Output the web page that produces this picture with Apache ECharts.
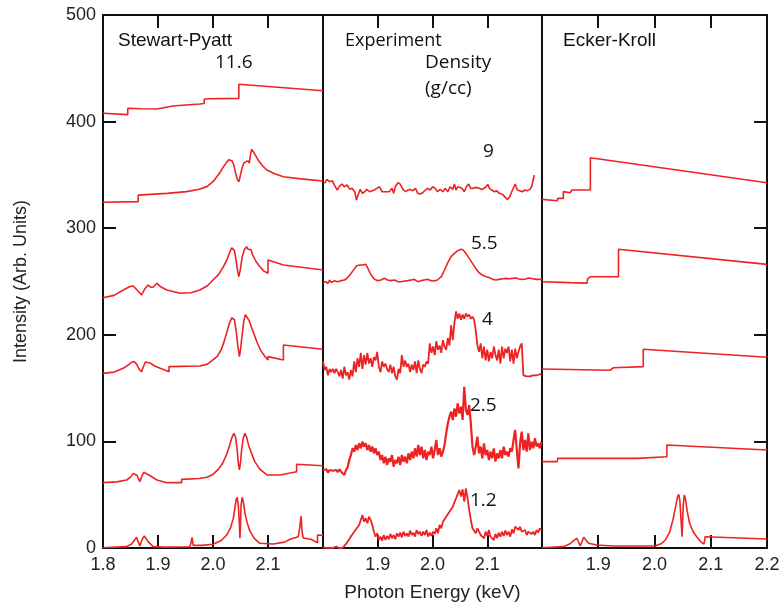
<!DOCTYPE html>
<html>
<head>
<meta charset="utf-8">
<script src="https://cdn.jsdelivr.net/npm/echarts@6.0.0/dist/echarts.min.js"></script>
<style>
  html, body { margin: 0; padding: 0; background: #fff; }
  #chart { width: 781px; height: 604px; }
</style>
</head>
<body>
<div id="chart"></div>
<script>
// ---- Stewart-Pyatt model, [keV, intensity] ----
const sp11_6 = [[1.800,407.8],[1.845,406.5],[1.845,412.5],[1.870,412.0],[1.898,411.8],[1.927,414.6],[1.950,415.5],[1.976,416.5],[1.984,417.0],[1.984,421.0],[1.991,421.5],[1.991,422.4],[2.047,421.8],[2.047,435.0],[2.200,429.0]];
const sp9 = [[1.800,324.3],[1.864,324.9],[1.864,331.0],[1.916,332.7],[1.952,334.3],[1.975,336.5],[1.989,339.0],[2.000,343.6],[2.007,348.3],[2.013,352.5],[2.019,357.7],[2.025,362.0],[2.029,364.3],[2.032,364.6],[2.035,363.0],[2.038,359.0],[2.041,352.0],[2.044,346.0],[2.047,343.6],[2.050,350.0],[2.053,357.0],[2.056,361.0],[2.060,362.5],[2.064,363.0],[2.066,361.0],[2.068,368.0],[2.070,374.0],[2.073,372.0],[2.077,368.5],[2.082,364.0],[2.090,358.5],[2.098,354.6],[2.112,351.0],[2.128,348.3],[2.160,346.3],[2.200,344.3]];
const sp5_5 = [[1.800,234.8],[1.820,237.0],[1.837,242.0],[1.848,245.0],[1.855,245.8],[1.862,242.0],[1.870,237.3],[1.876,243.0],[1.882,246.7],[1.887,244.6],[1.891,244.6],[1.898,248.3],[1.905,245.0],[1.916,242.0],[1.940,239.0],[1.960,239.5],[1.976,242.0],[1.990,246.0],[2.000,251.4],[2.010,256.5],[2.019,263.9],[2.025,270.0],[2.030,277.0],[2.034,281.5],[2.036,282.6],[2.039,279.0],[2.042,270.0],[2.045,259.0],[2.047,254.5],[2.050,262.0],[2.053,273.0],[2.057,280.0],[2.061,282.6],[2.064,280.0],[2.067,279.0],[2.069,280.0],[2.072,275.0],[2.078,269.0],[2.085,264.0],[2.092,260.0],[2.100,257.7],[2.100,270.2],[2.128,265.5],[2.200,260.8]];
const sp4 = [[1.800,163.8],[1.820,165.0],[1.837,168.6],[1.847,172.0],[1.853,174.5],[1.857,174.8],[1.861,172.5],[1.866,167.5],[1.870,165.4],[1.873,169.5],[1.877,174.5],[1.880,175.7],[1.886,173.5],[1.895,170.5],[1.904,168.6],[1.920,165.4],[1.920,170.1],[1.976,170.7],[1.990,172.5],[2.000,176.4],[2.008,180.0],[2.015,186.0],[2.021,195.0],[2.026,204.0],[2.030,211.0],[2.034,216.0],[2.037,217.0],[2.039,214.0],[2.042,204.0],[2.045,190.0],[2.048,179.5],[2.050,186.0],[2.053,200.0],[2.056,213.0],[2.059,219.0],[2.062,218.0],[2.066,213.0],[2.070,207.0],[2.075,200.0],[2.080,193.0],[2.087,185.0],[2.094,180.0],[2.100,176.4],[2.100,179.5],[2.128,176.4],[2.128,190.4],[2.200,186.4]];
const sp2_5 = [[1.800,61.3],[1.825,62.0],[1.843,63.8],[1.850,66.5],[1.855,70.0],[1.858,70.7],[1.862,68.0],[1.867,62.2],[1.870,66.5],[1.874,71.0],[1.877,71.6],[1.885,68.0],[1.898,63.8],[1.916,61.3],[1.943,61.3],[1.943,64.4],[1.975,65.2],[1.989,66.3],[2.000,69.0],[2.010,74.0],[2.018,80.0],[2.025,88.0],[2.030,96.0],[2.034,103.0],[2.038,107.6],[2.041,104.0],[2.044,92.0],[2.046,80.0],[2.048,73.2],[2.050,80.0],[2.052,92.0],[2.055,103.0],[2.058,107.6],[2.061,104.0],[2.065,96.0],[2.070,89.0],[2.076,81.0],[2.085,74.0],[2.098,68.5],[2.122,68.5],[2.122,70.0],[2.152,71.6],[2.152,78.5],[2.200,77.2]];
const sp1_2 = [[1.800,0.3],[1.843,1.3],[1.852,3.7],[1.858,8.0],[1.861,10.0],[1.864,6.0],[1.867,1.9],[1.871,8.0],[1.875,11.3],[1.882,6.0],[1.891,1.3],[1.910,0.8],[1.958,1.2],[1.960,5.0],[1.962,10.0],[1.964,2.5],[1.980,2.5],[1.980,3.5],[2.000,3.5],[2.015,7.0],[2.025,12.2],[2.032,19.0],[2.037,28.0],[2.040,38.0],[2.042,45.0],[2.044,47.6],[2.046,40.0],[2.048,22.0],[2.049,9.1],[2.050,22.0],[2.051,40.0],[2.053,47.6],[2.055,44.0],[2.058,33.0],[2.062,24.0],[2.067,16.0],[2.075,9.0],[2.085,4.4],[2.110,3.7],[2.130,5.5],[2.140,8.2],[2.155,10.6],[2.158,20.0],[2.160,30.0],[2.162,15.0],[2.164,9.4],[2.178,8.2],[2.190,5.0],[2.190,12.2],[2.200,12.0]];

// ---- Experiment ----
const exp9 = [[1.803,342.0],[1.807,345.8],[1.812,343.6],[1.817,344.6],[1.821,340.5],[1.826,335.8],[1.830,339.5],[1.835,341.4],[1.839,338.9],[1.844,340.5],[1.849,336.4],[1.853,337.4],[1.858,334.2],[1.861,326.4],[1.864,331.1],[1.868,336.4],[1.872,332.7],[1.876,334.2],[1.880,336.4],[1.885,334.2],[1.890,335.2],[1.894,335.8],[1.898,337.4],[1.903,338.9],[1.908,334.2],[1.912,334.2],[1.917,334.2],[1.921,334.2],[1.926,337.4],[1.929,332.7],[1.932,338.9],[1.937,342.7],[1.941,341.4],[1.946,336.4],[1.951,334.2],[1.955,335.8],[1.959,336.4],[1.964,335.2],[1.969,337.4],[1.973,332.7],[1.977,332.0],[1.982,333.3],[1.987,335.8],[1.991,337.4],[1.996,335.8],[2.000,338.9],[2.005,337.4],[2.009,334.2],[2.014,336.4],[2.019,334.2],[2.023,337.4],[2.028,334.2],[2.032,338.9],[2.037,336.4],[2.040,341.4],[2.043,335.8],[2.046,338.9],[2.049,340.5],[2.054,337.4],[2.058,334.2],[2.062,338.9],[2.066,341.4],[2.070,337.4],[2.074,337.4],[2.079,338.3],[2.085,337.4],[2.091,336.4],[2.098,338.9],[2.101,341.1],[2.104,337.4],[2.108,335.8],[2.113,334.2],[2.117,335.2],[2.122,332.7],[2.128,331.7],[2.133,328.9],[2.137,327.0],[2.141,329.5],[2.146,335.8],[2.151,341.4],[2.155,335.8],[2.159,335.2],[2.164,334.2],[2.169,335.8],[2.173,335.2],[2.178,336.4],[2.181,338.9],[2.186,349.9]];
const exp5_5 = [[1.800,248.9],[1.805,249.8],[1.809,248.3],[1.812,251.4],[1.815,248.9],[1.818,247.6],[1.821,250.8],[1.827,249.8],[1.833,250.8],[1.839,251.4],[1.844,253.0],[1.849,256.1],[1.855,260.2],[1.861,264.5],[1.867,265.5],[1.873,265.5],[1.878,266.1],[1.882,262.3],[1.888,256.1],[1.894,252.0],[1.900,250.8],[1.906,251.4],[1.912,253.0],[1.918,251.4],[1.924,250.8],[1.931,251.4],[1.937,249.8],[1.943,249.8],[1.949,250.5],[1.955,250.8],[1.961,251.4],[1.967,252.0],[1.973,249.8],[1.979,250.8],[1.985,251.4],[1.991,252.0],[1.997,250.8],[2.003,250.5],[2.009,251.4],[2.016,254.5],[2.022,260.8],[2.028,267.7],[2.034,273.3],[2.040,276.4],[2.046,278.9],[2.052,280.2],[2.056,279.5],[2.061,276.4],[2.067,271.7],[2.073,267.0],[2.079,262.3],[2.085,258.3],[2.091,256.1],[2.098,254.5],[2.104,253.6],[2.110,252.0],[2.116,251.4],[2.122,252.0],[2.128,252.6],[2.134,252.9],[2.140,252.6],[2.146,252.9],[2.152,253.3],[2.158,252.3],[2.164,252.0],[2.170,252.3],[2.176,253.3],[2.183,252.6],[2.189,252.0],[2.195,252.0],[2.200,252.0]];

// shared energy samples for the three densest experimental traces
const expEnergy = [1.800,1.803,1.806,1.809,1.812,1.815,1.818,1.821,1.824,1.827,1.830,1.833,1.836,1.839,1.842,1.845,1.848,1.851,1.854,1.857,1.860,1.863,1.866,1.869,1.872,1.875,1.878,1.881,1.884,1.887,1.890,1.893,1.896,1.899,1.902,1.905,1.908,1.911,1.914,1.917,1.920,1.923,1.926,1.929,1.932,1.935,1.938,1.941,1.944,1.947,1.950,1.953,1.956,1.959,1.962,1.965,1.968,1.971,1.974,1.977,1.980,1.983,1.986,1.989,1.992,1.995,1.998,2.001,2.004,2.007,2.010,2.013,2.016,2.019,2.022,2.025,2.028,2.031,2.034,2.037,2.040,2.043,2.046,2.049,2.052,2.055,2.058,2.061,2.064,2.067,2.070,2.073,2.076,2.079,2.082,2.085,2.088,2.091,2.094,2.097,2.100,2.103,2.106,2.109,2.112,2.115,2.118,2.121,2.124,2.127,2.130,2.133,2.136,2.139,2.142,2.145,2.148,2.151,2.154,2.157,2.160,2.163,2.166,2.169,2.172,2.175,2.178,2.181,2.184,2.187,2.190,2.193,2.196,2.199];
const exp4 = [175,167,170,162,168,165,168,164,168,165,161,167,159,170,162,165,158,167,161,175,165,178,170,183,168,181,172,183,173,178,170,179,176,184,170,165,175,170,173,168,165,172,164,170,161,158,168,164,181,170,176,170,173,165,172,167,175,164,176,168,164,172,170,175,173,192,183,189,181,194,186,190,183,195,189,186,197,190,209,195,211,222,215,220,214,219,215,220,217,219,215,217,214,204,190,184,192,178,189,176,186,175,184,178,189,181,176,186,173,189,178,187,183,189,175,186,173,187,178,184,189,192,162,161,161,161,161,162,162,162,162,162,163,163];
const exp2_5 = [73.2,71.6,73.8,70.7,73.2,71.6,72.5,70.7,73.2,71.3,73.8,71.6,72.5,68.5,73.2,75.7,82.6,87.2,93.5,90.4,96.6,91.9,98.2,93.5,99.7,95.1,98.2,91.9,96.6,90.4,95.1,88.8,93.5,87.2,90.4,82.6,87.2,79.4,85.7,77.9,84.1,81.0,87.2,76.3,82.6,79.4,85.7,77.9,87.2,81.0,85.7,79.4,88.8,82.6,90.4,84.1,93.5,85.7,96.6,87.2,95.1,84.1,91.9,82.6,90.4,87.2,95.1,84.1,91.9,101.3,87.2,93.5,85.7,90.4,96.6,107.6,116.9,123.2,127.9,120.1,131.0,123.2,135.7,126.3,132.6,120.1,151.3,129.5,124.8,134.1,116.9,95.1,87.2,95.1,104.4,88.8,95.1,84.1,98.2,87.2,91.9,82.6,90.4,84.1,93.5,81.0,88.8,84.1,91.9,84.1,95.1,87.2,90.4,85.7,93.5,90.4,101.3,110.7,91.9,74.7,98.2,109.1,91.9,101.3,90.4,107.6,91.9,99.7,93.5,102.9,95.1,98.2,93.5,99.7];
const exp1_2 = [0.7,1.3,0.2,1.0,0.1,0.7,0.0,0.3,1.3,0.2,0.0,0.7,0.2,1.9,3.8,6.0,8.2,10.7,12.2,15.3,16.9,19.4,21.6,26.3,31.0,24.7,27.9,23.2,29.4,26.3,21.6,15.3,10.7,13.8,7.5,10.7,6.9,12.2,7.5,11.3,8.2,13.2,9.1,12.2,8.2,13.8,10.7,14.4,10.0,15.3,11.3,13.8,10.7,16.3,12.2,14.4,10.7,16.9,13.2,15.3,11.3,15.3,12.2,16.9,10.7,14.4,11.3,15.3,13.2,18.5,13.8,21.6,18.5,24.7,23.2,29.4,27.9,34.1,32.5,38.8,40.4,46.6,45.1,54.4,48.2,55.1,43.5,56.0,46.6,35.7,26.3,18.5,16.9,13.8,18.5,15.3,12.2,13.8,9.1,15.3,11.3,16.9,10.7,12.2,7.5,13.2,9.1,14.4,10.7,15.3,11.3,16.3,12.2,15.3,10.7,17.5,13.8,20.0,21.6,16.9,20.0,15.3,13.8,16.9,12.2,15.3,16.9,13.2,15.3,12.2,16.9,14.4,18.5,16.9];

// ---- Ecker-Kroll model ----
const ek9 = [[1.800,327.0],[1.827,325.8],[1.828,328.0],[1.838,328.0],[1.838,334.3],[1.850,333.3],[1.853,335.8],[1.886,335.8],[1.886,366.1],[2.200,342.7]];
const ek5_5 = [[1.800,249.8],[1.850,248.9],[1.880,248.5],[1.881,252.5],[1.886,254.4],[1.936,254.5],[1.936,280.2],[2.200,266.1]];
const ek4 = [[1.800,167.9],[1.921,166.7],[1.927,169.1],[1.980,170.1],[1.980,186.4],[2.200,178.9]];
const ek2_5 = [[1.800,81.0],[1.827,81.0],[1.828,84.1],[1.969,84.1],[2.022,85.6],[2.022,96.6],[2.200,91.9]];
const ek1_2 = [[1.800,0.3],[1.838,1.3],[1.850,4.0],[1.856,6.9],[1.862,9.1],[1.868,1.9],[1.874,10.0],[1.883,4.4],[1.897,2.8],[1.927,1.9],[2.000,1.9],[2.012,4.0],[2.020,8.0],[2.027,15.0],[2.033,27.0],[2.038,40.0],[2.041,48.0],[2.043,50.3],[2.045,45.0],[2.047,28.0],[2.049,10.6],[2.050,25.0],[2.051,40.0],[2.053,49.7],[2.055,46.0],[2.058,35.0],[2.062,24.0],[2.068,16.0],[2.075,10.6],[2.082,6.0],[2.088,3.7],[2.090,3.7],[2.090,10.6],[2.200,8.4]];

const panelTitles = ['Stewart-Pyatt', 'Experiment', 'Ecker-Kroll'];
const densityLabels = ['11.6', '9', '5.5', '4', '2.5', '1.2'];

const RED = '#ee2222';
const INK = '#111';
const sans = '"Liberation Sans", Arial, sans-serif';
const calib = '"Open Sans", sans-serif';

function zip(xs, ys) {
  return ys.map((y, i) => [xs[i], y]);
}

function line(data, idx, width) {
  return {
    type: 'line',
    xAxisIndex: idx * 2,
    yAxisIndex: idx,
    data: data,
    showSymbol: false,
    lineStyle: {color: RED, width: width || 1.6},
  };
}

function ticks(show) {
  return {show: show, inside: true, length: 13, lineStyle: {color: INK, width: 2}};
}
function frame() {
  return {show: true, onZero: false, lineStyle: {color: INK, width: 2}};
}
// labels kept "on" but invisible, so the tick marks are still laid out
function ghostLabels() {
  return {show: true, color: 'rgba(0,0,0,0)', fontSize: 10};
}

function xAxes(idx, labels) {
  return [
    {
      type: 'value', gridIndex: idx, min: 1.8, max: 2.2, interval: 0.1, position: 'bottom',
      axisLine: frame(),
      axisTick: ticks(true),
      splitLine: {show: false},
      axisLabel: {
        show: true, margin: 8, color: '#222', fontSize: 18, fontFamily: sans,
        formatter: (v) => {
          if (!labels.min && Math.abs(v - 1.8) < 1e-6) return '';
          if (!labels.max && Math.abs(v - 2.2) < 1e-6) return '';
          return v.toFixed(1);
        },
      },
      name: idx === 1 ? 'Photon Energy (keV)' : undefined,
      nameLocation: 'middle',
      nameGap: 35,
      nameTextStyle: {color: '#222', fontSize: 19, fontFamily: sans},
    },
    {
      type: 'value', gridIndex: idx, min: 1.8, max: 2.2, interval: 0.1, position: 'top',
      axisLine: frame(),
      axisTick: ticks(true),
      splitLine: {show: false},
      axisLabel: ghostLabels(),
    },
  ];
}

function yAxis(idx, position, showTicks) {
  return {
    type: 'value', gridIndex: idx, min: 0, max: 500, interval: 100, position: position,
    axisLine: frame(),
    axisTick: ticks(showTicks),
    axisLabel: ghostLabels(),
    splitLine: {show: false},
  };
}

const leftY = yAxis(0, 'left', true);
leftY.axisLabel = {show: true, margin: 7, color: '#222', fontSize: 18, fontFamily: sans};
leftY.name = 'Intensity (Arb. Units)';
leftY.nameLocation = 'middle';
leftY.nameGap = 73;
leftY.nameTextStyle = {color: '#222', fontSize: 18, fontFamily: sans};

const chart = echarts.init(document.getElementById('chart'));

const option = {
  animation: false,
  grid: [
    {left: 103, top: 15, width: 220, height: 533, outerBoundsMode: 'none'},
    {left: 323, top: 15, width: 219, height: 533, outerBoundsMode: 'none'},
    {left: 542, top: 15, width: 225, height: 533, outerBoundsMode: 'none'},
  ],
  xAxis: [
    ...xAxes(0, {min: true, max: false}),
    ...xAxes(1, {min: false, max: false}),
    ...xAxes(2, {min: false, max: true}),
  ],
  yAxis: [
    leftY,
    yAxis(1, 'left', false),
    yAxis(2, 'right', true),
    yAxis(2, 'left', false),
  ],
  series: [
    line(sp11_6, 0), line(sp9, 0), line(sp5_5, 0), line(sp4, 0), line(sp2_5, 0), line(sp1_2, 0),
    line(exp9, 1), line(exp5_5, 1),
    line(zip(expEnergy, exp4), 1, 1.8), line(zip(expEnergy, exp2_5), 1, 2.2), line(zip(expEnergy, exp1_2), 1, 1.8),
    line(ek9, 2), line(ek5_5, 2), line(ek4, 2), line(ek2_5, 2), line(ek1_2, 2),
  ],
  graphic: [
    {type: 'text', x: 118, y: 41, style: {text: panelTitles[0], font: '19px ' + sans, fill: INK, verticalAlign: 'middle'}},
    {type: 'text', x: 345, y: 41, style: {text: panelTitles[1], font: '18px ' + calib, fill: INK, verticalAlign: 'middle'}},
    {type: 'text', x: 563, y: 41, style: {text: panelTitles[2], font: '19px ' + sans, fill: INK, verticalAlign: 'middle'}},
    {type: 'text', x: 425, y: 63, style: {text: 'Density', font: '19px ' + calib, fill: INK, verticalAlign: 'middle'}},
    {type: 'text', x: 425, y: 89, style: {text: '(g/cc)', font: '19px ' + calib, fill: INK, verticalAlign: 'middle'}},
    {type: 'text', x: 215, y: 63, style: {text: densityLabels[0], font: '19px ' + calib, fill: INK, verticalAlign: 'middle'}},
    {type: 'text', x: 483, y: 152, style: {text: densityLabels[1], font: '19px ' + calib, fill: INK, verticalAlign: 'middle'}},
    {type: 'text', x: 471, y: 244, style: {text: densityLabels[2], font: '19px ' + calib, fill: INK, verticalAlign: 'middle'}},
    {type: 'text', x: 482, y: 320, style: {text: densityLabels[3], font: '19px ' + calib, fill: INK, verticalAlign: 'middle'}},
    {type: 'text', x: 470, y: 406, style: {text: densityLabels[4], font: '19px ' + calib, fill: INK, verticalAlign: 'middle'}},
    {type: 'text', x: 470, y: 501, style: {text: densityLabels[5], font: '19px ' + calib, fill: INK, verticalAlign: 'middle'}},
  ],
};

chart.setOption(option);
</script>
</body>
</html>
